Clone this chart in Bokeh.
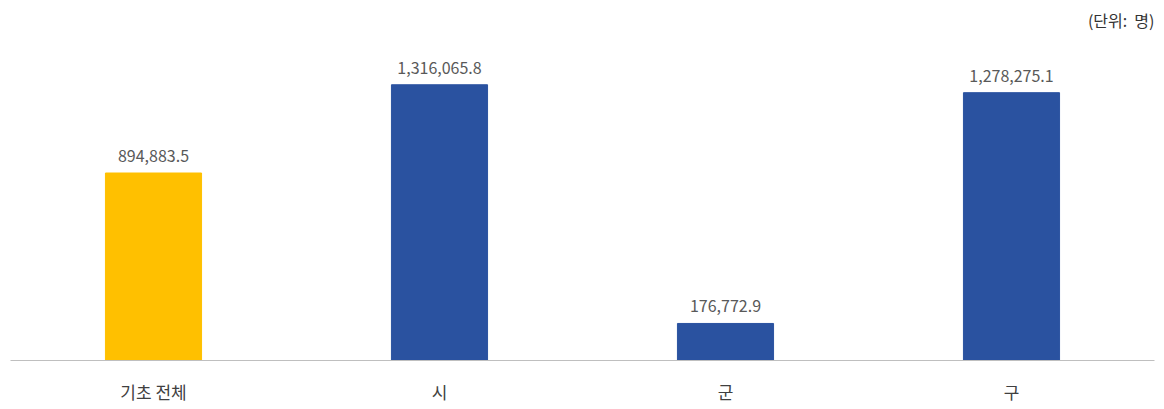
from bokeh.plotting import figure
from bokeh.models import ColumnDataSource, FactorRange, Range1d
from bokeh.embed import file_html
from bokeh.resources import INLINE

categories = ["기초 전체", "시", "군", "구"]
values = [894883.5, 1316065.8, 176772.9, 1278275.1]
colors = ["#FFC000", "#2A52A0", "#2A52A0", "#2A52A0"]
labels = [f"{v:,.1f}" for v in values]
unit_text = "(단위:\u00a0\u00a0명)"

FONT = "Noto Sans CJK KR"

src = ColumnDataSource(dict(cat=categories, val=values, color=colors, label=labels))

p = figure(
    width=1164, height=406,
    x_range=FactorRange(*categories),
    y_range=Range1d(0, 1316065.8 * 1.175),
    output_backend="svg", toolbar_location=None,
    min_border_left=10, min_border_right=10, min_border_top=0,
    title=unit_text,
)
p.title.align = "right"
p.title.text_font = FONT
p.title.text_font_size = "16px"
p.title.text_font_style = "normal"
p.title.text_color = "#333333"

p.vbar(x="cat", top="val", width=0.336, color="color", source=src)
p.text(x="cat", y="val", text="label", source=src, y_offset=-11,
       text_align="center", text_baseline="bottom",
       text_font_size="16px", text_color="#595959", text_font={"value": FONT})

p.yaxis.visible = False
p.xgrid.visible = False
p.ygrid.visible = False
p.outline_line_color = None
p.xaxis.axis_line_color = "#BFBFBF"
p.xaxis.axis_line_width = 1
p.xaxis.major_tick_line_color = None
p.xaxis.minor_tick_line_color = None
p.xaxis.major_label_standoff = 12
p.xaxis.major_label_text_font = FONT
p.xaxis.major_label_text_font_size = "17px"
p.xaxis.major_label_text_color = "#404040"

open("out.html", "w").write(file_html(p, INLINE))
